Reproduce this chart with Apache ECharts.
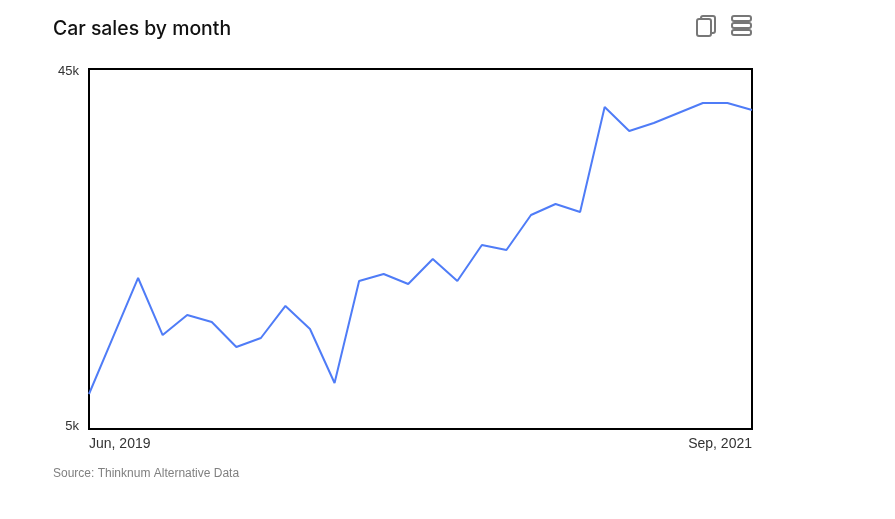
<!DOCTYPE html>
<html><head><meta charset="utf-8">
<style>html,body{margin:0;padding:0;background:#fff}#c{width:895px;height:519px}</style>
<script src="https://cdn.jsdelivr.net/npm/echarts@6/dist/echarts.min.js"></script>
</head><body><div id="c"></div>
<script>
const months = ["Jun, 2019","Jul, 2019","Aug, 2019","Sep, 2019","Oct, 2019","Nov, 2019","Dec, 2019","Jan, 2020","Feb, 2020","Mar, 2020","Apr, 2020","May, 2020","Jun, 2020","Jul, 2020","Aug, 2020","Sep, 2020","Oct, 2020","Nov, 2020","Dec, 2020","Jan, 2021","Feb, 2021","Mar, 2021","Apr, 2021","May, 2021","Jun, 2021","Jul, 2021","Aug, 2021","Sep, 2021"];
const sales = [8890,15340,21780,15440,17670,16890,14110,15110,18670,16110,10110,21440,22220,21110,23890,21440,25440,24890,28780,30000,29110,40780,38110,39000,40110,41220,41220,40440];
const yMin = 5000, yMax = 45000;
const titleText = "Car sales by month";
const sourceText = "Source: Thinknum Alternative Data";
const chart = echarts.init(document.getElementById('c'), null, {renderer:'canvas'});
const iconStyle = {fill:'#fff', stroke:'#777', lineWidth:2};
chart.setOption({
  animation:false,
  backgroundColor:'#fff',
  title:{text:titleText,left:53,top:20,padding:0,textStyle:{fontFamily:'Inter',fontSize:19.4,fontWeight:500,color:'#111'}},
  grid:{left:89,right:143,top:69,bottom:90,show:true,borderColor:'#000',borderWidth:2,backgroundColor:'#fff'},
  xAxis:{type:'category',data:months,boundaryGap:false,
    axisLine:{show:false},axisTick:{show:false},splitLine:{show:false},
    axisLabel:{interval:(i)=>i===0||i===months.length-1,margin:8,fontFamily:'Liberation Sans',fontSize:14,color:'#333',alignMinLabel:'left',alignMaxLabel:'right'}},
  yAxis:{type:'value',min:yMin,max:yMax,interval:yMax-yMin,
    axisLine:{show:false},axisTick:{show:false},splitLine:{show:false},
    axisLabel:{margin:10,fontFamily:'Liberation Sans',fontSize:13,color:'#333',lineHeight:5,verticalAlignMinLabel:'bottom',verticalAlignMaxLabel:'top',
      formatter:v=>(v/1000)+'k'}},
  series:[{type:'line',data:sales,symbol:'none',smooth:false,clip:false,lineStyle:{color:'#4f7cf7',width:2}}],
  graphic:[
    {type:'text',left:53,top:468,style:{text:sourceText,fontFamily:'Liberation Sans',fontSize:12,fill:'#808080'}},
    {type:'rect',shape:{x:701,y:16,width:14,height:17,r:2},style:iconStyle},
    {type:'rect',shape:{x:697,y:19,width:14,height:17,r:2},style:iconStyle},
    {type:'rect',shape:{x:732,y:16,width:19,height:5,r:2},style:iconStyle},
    {type:'rect',shape:{x:732,y:23,width:19,height:5,r:2},style:iconStyle},
    {type:'rect',shape:{x:732,y:30,width:19,height:5,r:2},style:iconStyle}
  ]
});
</script></body></html>
